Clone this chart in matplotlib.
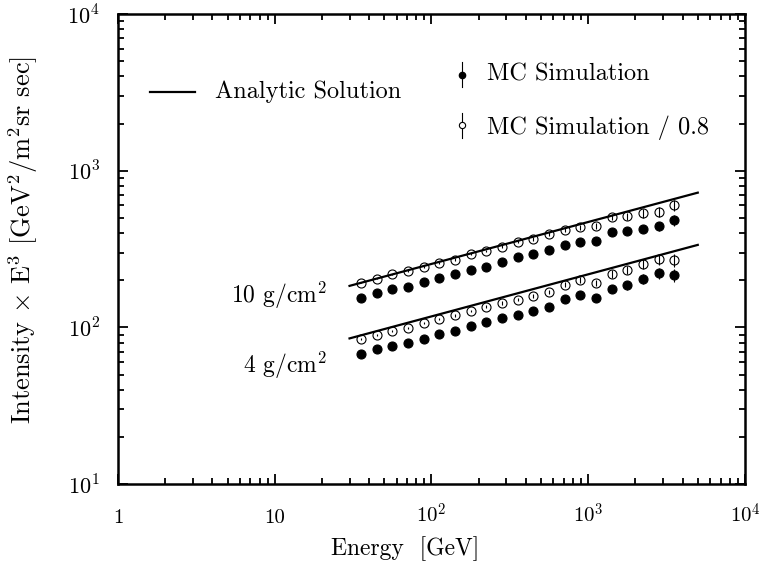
import numpy as np
import matplotlib
matplotlib.use("Agg")
import matplotlib.pyplot as plt
from matplotlib.ticker import FixedLocator, FixedFormatter, LogLocator, NullFormatter

plt.rcParams["font.family"] = "serif"
plt.rcParams["font.serif"] = ["cmr10"]
plt.rcParams["mathtext.fontset"] = "cm"
plt.rcParams["axes.formatter.use_mathtext"] = True

# energy bins [GeV]
energy = [35.5, 44.7, 56.2, 70.8, 89.1, 112, 141, 178, 224, 282, 355,
          447, 562, 708, 891, 1120, 1410, 1780, 2240, 2820, 3550]

# MC simulation, 10 g/cm^2
mc_10 = [155, 166, 175, 182, 194, 206, 218, 233, 244, 262, 280,
         294, 314, 335, 350, 356, 408, 410, 425, 442, 482]
mc_10_scaled = [193, 205, 218, 229, 242, 256, 271, 294, 307, 328, 352,
                367, 393, 419, 435, 443, 508, 511, 533, 548, 604]
rel_err_10 = [0.008, 0.009, 0.010, 0.011, 0.013, 0.014, 0.016, 0.018, 0.020, 0.022, 0.025,
              0.028, 0.031, 0.035, 0.039, 0.044, 0.049, 0.055, 0.062, 0.070, 0.080]

# MC simulation, 4 g/cm^2
mc_4 = [67.3, 72.4, 76.0, 79.1, 84.7, 90.3, 95.2, 101.6, 108.2, 114.3, 119.4,
        127.8, 134.3, 151, 160, 153, 176, 185, 204, 221, 216]
mc_4_scaled = [84.3, 89.5, 94.9, 99.2, 106.0, 112.5, 119.2, 127.2, 135.0, 143.1, 150.5,
               159.0, 168.5, 187.0, 200.5, 192.5, 219.5, 232.0, 254.0, 273.0, 268.0]
rel_err_4 = [0.009, 0.010, 0.011, 0.012, 0.014, 0.016, 0.018, 0.020, 0.022, 0.025, 0.028,
             0.031, 0.035, 0.039, 0.044, 0.049, 0.055, 0.062, 0.070, 0.080, 0.092]

# analytic solution (straight lines on log-log)
energy_line = [30, 5000]
analytic_10 = [184, 724]
analytic_4 = [85, 336]

x_ticks = [1, 10, 100, 1000, 10000]
x_labels = ["1", "10", r"$10^2$", r"$10^3$", r"$10^4$"]
y_ticks = [10, 100, 1000, 10000]
y_labels = [r"$10^1$", r"$10^2$", r"$10^3$", r"$10^4$"]


def draw_series(ax, y, rel, filled):
    y = np.asarray(y)
    err = y * np.asarray(rel)
    ax.errorbar(energy, y, yerr=err, fmt="o", ms=6.5,
                mfc="black" if filled else "none", mec="black", mew=0.8,
                ecolor="black", elinewidth=0.8, capsize=0, zorder=3)


def main():
    fig = plt.figure(figsize=(7.59, 5.72), dpi=100)
    ax = fig.add_axes([0.1555, 0.1538, 0.826, 0.8217])

    ax.plot(energy_line, analytic_10, color="black", lw=1.6, zorder=2)
    ax.plot(energy_line, analytic_4, color="black", lw=1.6, zorder=2)

    draw_series(ax, mc_10, rel_err_10, True)
    draw_series(ax, mc_10_scaled, rel_err_10, False)
    draw_series(ax, mc_4, rel_err_4, True)
    draw_series(ax, mc_4_scaled, rel_err_4, False)

    ax.set_xscale("log")
    ax.set_yscale("log")
    ax.set_xlim(1, 1e4)
    ax.set_ylim(10, 1e4)

    ax.xaxis.set_major_locator(FixedLocator(x_ticks))
    ax.xaxis.set_major_formatter(FixedFormatter(x_labels))
    ax.yaxis.set_major_locator(FixedLocator(y_ticks))
    ax.yaxis.set_major_formatter(FixedFormatter(y_labels))
    for axis in (ax.xaxis, ax.yaxis):
        axis.set_minor_locator(LogLocator(base=10, subs=np.arange(2, 10)))
        axis.set_minor_formatter(NullFormatter())

    ax.tick_params(which="both", direction="in", top=True, right=True, width=1.3)
    ax.tick_params(which="major", length=7, labelsize=16)
    ax.tick_params(which="minor", length=4)
    ax.tick_params(axis="x", which="major", pad=28, labelsize=15)
    ax.tick_params(axis="y", which="major", pad=13)
    plt.setp(ax.get_xticklabels(), va="baseline")
    for sp in ax.spines.values():
        sp.set_linewidth(1.8)

    ax.set_xlabel("Energy  [GeV]", fontsize=17)
    ax.xaxis.set_label_coords(0.458, -0.112)
    ax.set_ylabel(r"Intensity $\times$ E$^3$ [GeV$^2$/m$^2$sr sec]", fontsize=19)
    ax.yaxis.set_label_coords(-0.125, 0.52)

    ax.text(21.6, 161, r"10 g/cm$^2$", fontsize=17, ha="right", va="center")
    ax.text(21.6, 57.5, r"4 g/cm$^2$", fontsize=17, ha="right", va="center")

    # legend drawn by hand
    tr = ax.transAxes
    ax.plot([0.051, 0.123], [0.835, 0.835], color="black", lw=1.6, transform=tr)
    ax.text(0.155, 0.835, "Analytic Solution", fontsize=17.5, va="center", transform=tr)

    ax.plot([0.548, 0.548], [0.845, 0.898], color="black", lw=0.8, transform=tr)
    ax.plot([0.548], [0.870], "o", ms=4.5, mfc="black", mec="black", transform=tr)
    ax.text(0.589, 0.872, "MC Simulation", fontsize=17.5, va="center", transform=tr)

    ax.plot([0.548, 0.548], [0.736, 0.789], color="black", lw=0.8, transform=tr)
    ax.plot([0.548], [0.764], "o", ms=4.5, mfc="white", mec="black", mew=0.8, transform=tr)
    ax.text(0.589, 0.757, "MC Simulation / 0.8", fontsize=17.5, va="center", transform=tr)

    fig.savefig("out.png", dpi=100)
    plt.close(fig)


if __name__ == "__main__":
    main()
